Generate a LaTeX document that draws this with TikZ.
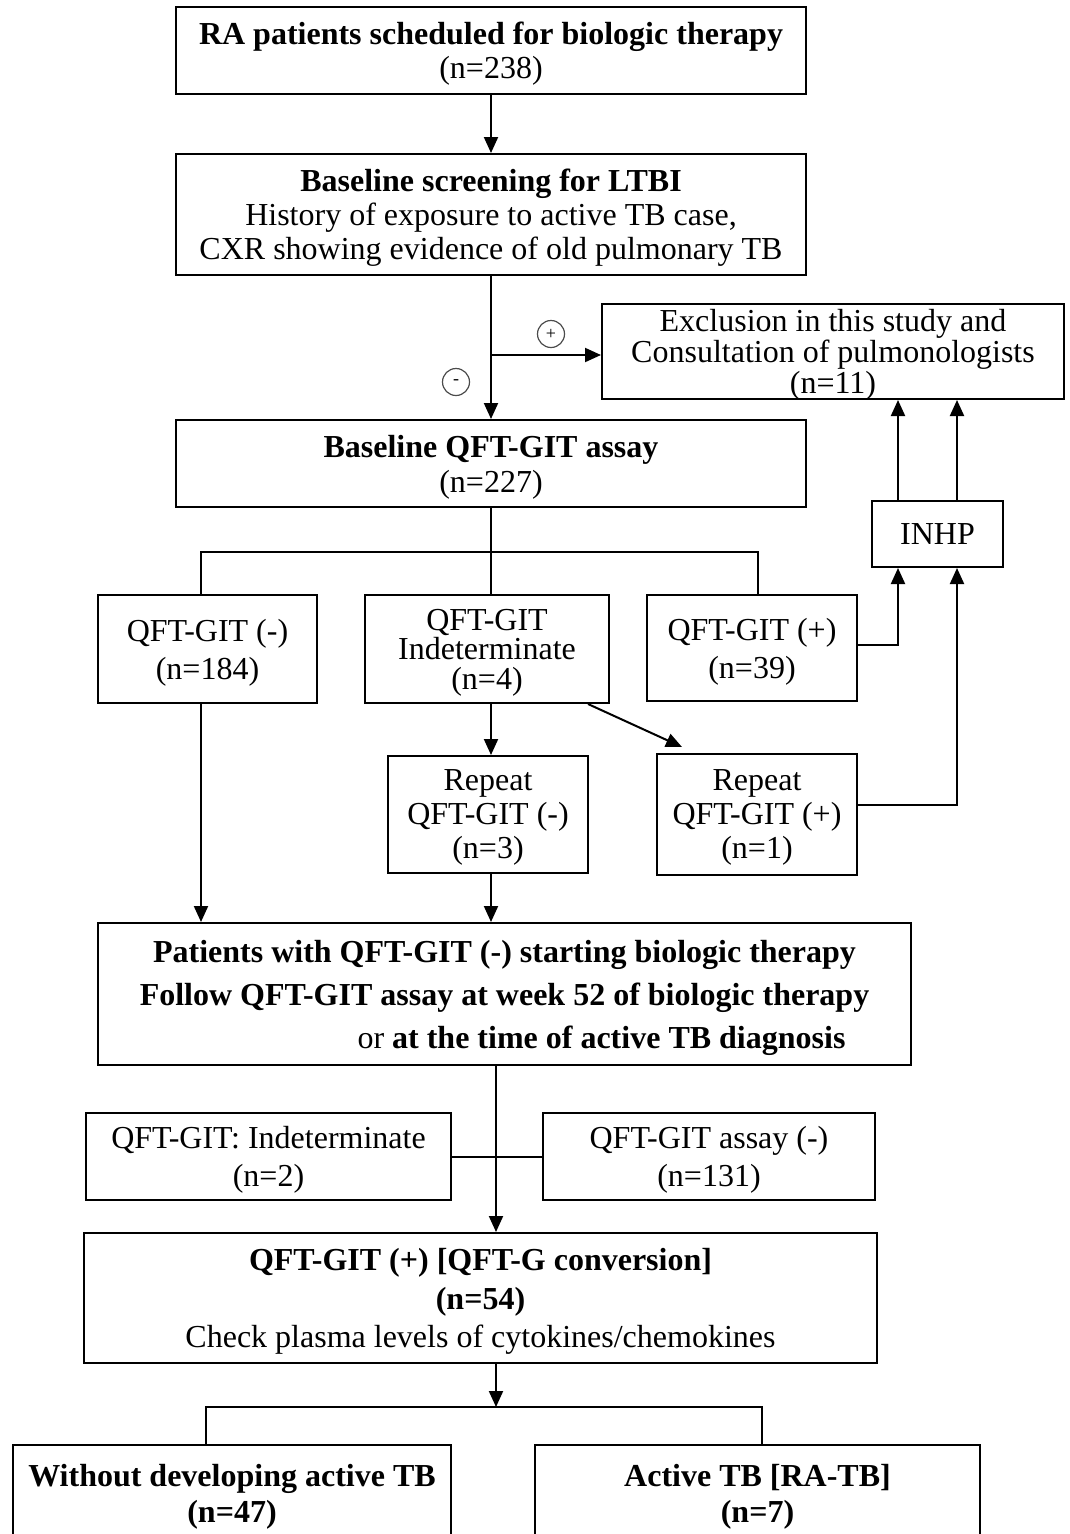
\documentclass[tikz,border=0pt]{standalone}
\usepackage{fontspec}
\setmainfont{Liberation Serif}
\usetikzlibrary{arrows.meta, calc}

\begin{document}
\begin{tikzpicture}[
    x=1pt, y=-1pt,
    >={Triangle[length=16pt, width=14pt]},
    line width=2pt,
    box/.style n args={2}{rectangle, draw=black, line width=2pt, minimum width=#1, minimum height=#2, inner sep=0pt, text depth=0pt, align=center},
    txt/.style={font=\fontsize{32}{#1}\selectfont},
    sign/.style={circle, draw=black!70, line width=1.2pt, minimum size=27pt, inner sep=0pt, font=\fontsize{18}{18}\selectfont}
]
\fill[white] (0,0) rectangle (1070,1534);
\useasboundingbox (0,0) rectangle (1070,1534);
\clip (0,0) rectangle (1070,1534);

% Screening stage
\node[box={630}{87}, txt=34] (ra) at (491,50.5) {\textbf{RA patients scheduled for biologic therapy}\\(n=238)};
\node[box={630}{121}, txt=34] (screen) at (491,214.5) {\textbf{Baseline screening for LTBI}\\History of exposure to active TB case,\\CXR showing evidence of old pulmonary TB};
\node[box={462}{95}, txt=31] (excl) at (833,351.5) {Exclusion in this study and\\Consultation of pulmonologists\\(n=11)};
\node[box={630}{87}, txt=35] (qft) at (491,463.5) {\textbf{Baseline QFT-GIT assay}\\(n=227)};
\node[box={131}{66}, txt=34] (inhp) at (937.5,534) {INHP};

% Signs at the fork
\node[sign] (plus) at (551,334) {+};
\node[sign] (minus) at (456,382) {-};

% Baseline results
\node[box={219}{108}, txt=38] (neg) at (207.5,649) {QFT-GIT (-)\\(n=184)};
\node[box={244}{108}, txt=29.5] (indet) at (487,649) {QFT-GIT\\Indeterminate\\(n=4)};
\node[box={210}{106}, txt=38] (pos) at (752,648) {QFT-GIT (+)\\(n=39)};
\node[box={200}{117}, txt=34] (repneg) at (488,814.5) {Repeat\\QFT-GIT (-)\\(n=3)};
\node[box={200}{121}, txt=34] (reppos) at (757,814.5) {Repeat\\QFT-GIT (+)\\(n=1)};

% Follow-up
\node[box={813}{142}, txt=43] (follow) at (504.5,994) {\textbf{Patients with QFT-GIT (-) starting biologic therapy}\\\textbf{Follow QFT-GIT assay at week 52 of biologic therapy}\\\hspace*{194pt}or \textbf{at the time of active TB diagnosis}};
\node[box={365}{87}, txt=38] (fIndet) at (268.5,1156.5) {QFT-GIT: Indeterminate\\(n=2)};
\node[box={332}{87}, txt=38] (fNeg) at (709,1156.5) {QFT-GIT assay (-)\\(n=131)};
\node[box={793}{130}, txt=38.5] (conv) at (480.5,1298) {\textbf{QFT-GIT (+) [QFT-G conversion]}\\\textbf{(n=54)}\\Check plasma levels of cytokines/chemokines};

% Outcome
\node[box={438}{96}, txt=36] (noTB) at (232,1493) {\textbf{Without developing active TB}\\\textbf{(n=47)}};
\node[box={445}{96}, txt=36] (actTB) at (757.5,1493) {\textbf{Active TB [RA-TB]}\\\textbf{(n=7)}};

% Arrows down the main line
\draw[->] (ra) -- (screen);
\draw[->] (screen) -- (qft);
\coordinate (fork) at (491,355);
\draw[->] (fork) -- (fork -| excl.west);

% Branches after baseline assay
\coordinate (split) at (491,552);
\coordinate (negT) at ([xshift=-6.5pt]neg.north);
\coordinate (negB) at ([xshift=-6.5pt]neg.south);
\coordinate (posT) at ([xshift=6pt]pos.north);
\draw (qft) -- (split) -- (split |- indet.north);
\draw (negT) |- (split) -| (posT);

% INHP loop
\coordinate (inL) at ([xshift=-39.5pt]inhp.south);
\coordinate (inR) at ([xshift=19.5pt]inhp.south);
\coordinate (outL) at ([xshift=-39.5pt]inhp.north);
\coordinate (outR) at ([xshift=19.5pt]inhp.north);
\draw[->] ([yshift=3pt]pos.east) -| (inL);
\draw[->] ([yshift=10pt]reppos.east) -| (inR);
\draw[->] (outL) -- (outL |- excl.south);
\draw[->] (outR) -- (outR |- excl.south);

% Repeat tests
\draw[->] (split |- indet.south) -- (split |- repneg.north);
\draw[->] ([xshift=-22pt]indet.south east) -- ([xshift=26pt,yshift=6pt]reppos.north west);

% Into follow-up
\draw[->] (negB) -- (negB |- follow.north);
\draw[->] ([xshift=3pt]repneg.south) coordinate (rnB) -- (rnB |- follow.north);
\coordinate (spine) at (496,1065);
\draw[->] (spine) -- (spine |- conv.north);
\draw (fIndet.east) -- (fNeg.west);

% Outcome split
\coordinate (split2) at (496,1407);
\coordinate (noT) at ([xshift=-26pt]noTB.north);
\coordinate (actT) at ([xshift=4.5pt]actTB.north);
\draw[->] (conv.south -| split2) -- (split2);
\draw (noT) |- (split2) -| (actT);

\end{tikzpicture}
\end{document}
